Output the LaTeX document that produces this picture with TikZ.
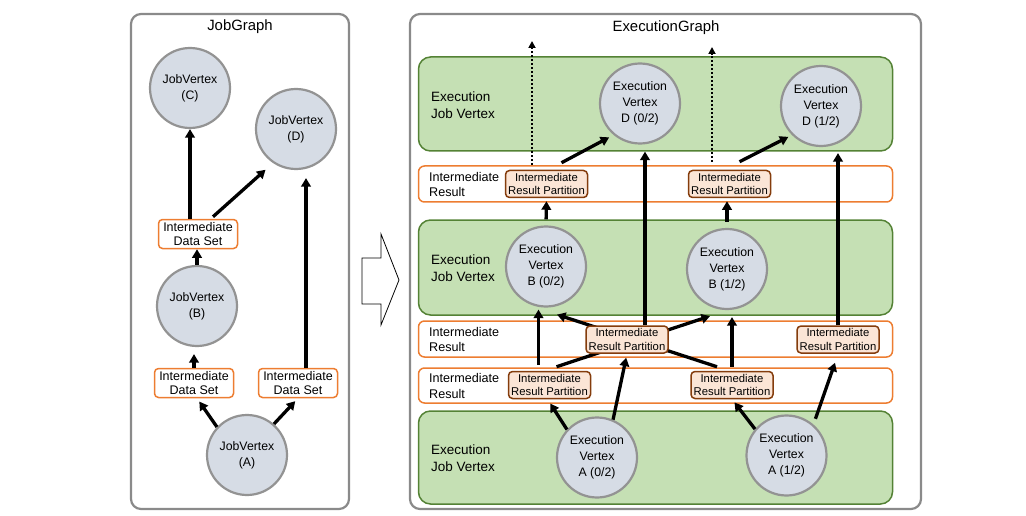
\documentclass[tikz,border=0pt]{standalone}
\usepackage{fontspec}
\setmainfont{Liberation Sans}
\usetikzlibrary{arrows.meta}
\definecolor{vfill}{HTML}{D6DCE5}
\definecolor{vline}{HTML}{939393}
\definecolor{gfill}{HTML}{C5E0B4}
\definecolor{gline}{HTML}{548235}
\definecolor{oline}{HTML}{ED7D31}
\definecolor{pfill}{HTML}{FBE5D6}
\definecolor{pline}{HTML}{843C0C}
\definecolor{frame}{HTML}{8A8A8A}
\tikzset{>={Triangle[length=8.5pt,width=9.5pt]},
  panel/.style={draw=frame, line width=2.2pt, rounded corners=10pt, minimum width=#1, minimum height=495pt},
  title/.style={font=\fontsize{14.9}{17}\selectfont},
  vertex/.style={circle, draw=vline, fill=vfill, line width=2.2pt, minimum size=80pt, inner sep=0pt, align=center, font=\fontsize{12.3}{16}\selectfont},
  dataset/.style={draw=oline, fill=white, line width=1.5pt, rounded corners=4pt, minimum width=79pt, minimum height=29pt, inner sep=0pt, align=center, font=\fontsize{12.5}{14.5}\selectfont},
  layer/.style={draw=gline, fill=gfill, line width=1.5pt, rounded corners=12pt, minimum width=474pt, minimum height=#1},
  result/.style={draw=oline, fill=white, line width=1.5pt, rounded corners=6pt, minimum width=474pt, minimum height=#1},
  layerlabel/.style={anchor=west, inner sep=0pt, align=left, font=\fontsize{13.5}{16.5}\selectfont},
  resultlabel/.style={anchor=west, inner sep=0pt, align=left, font=\fontsize{12.6}{15.5}\selectfont},
  partition/.style={draw=pline, fill=pfill, line width=1.5pt, rounded corners=4pt, minimum width=82pt, minimum height=27pt, inner sep=0pt, align=center, font=\fontsize{11.3}{13.5}\selectfont},
  flow/.style={->, line width=3.3pt},
  dotflow/.style={->, >={Triangle[length=7pt,width=7pt]}, line width=2.6pt, dash pattern=on 2pt off 2pt}}

\begin{document}
\begin{tikzpicture}[x=1pt, y=-1pt]
    \useasboundingbox (0,0) rectangle (1026,516);
    % frames
    \node[panel=218pt] (jobgraph) at (240,261.5) {};
    \node[panel=511pt] (execgraph) at (665.5,261.5) {};
    \node[title] (jgtitle) at (240,27) {JobGraph};
    \node[title] (egtitle) at (666,28) {ExecutionGraph};

    % job graph
    \node[vertex] (jC) at (190,88) {JobVertex\\(C)};
    \node[vertex] (jD) at (296,129) {JobVertex\\(D)};
    \node[dataset] (dsC) at (198,234) {Intermediate\\Data Set};
    \node[vertex] (jB) at (197,306) {JobVertex\\(B)};
    \node[dataset] (dsB) at (194,383) {Intermediate\\Data Set};
    \node[dataset] (dsD) at (298,383) {Intermediate\\Data Set};
    \node[vertex] (jA) at (247,455) {JobVertex\\(A)};
    \path[flow] (dsC.north -| jC) edge (jC)
        ([xshift=15pt,yshift=2pt]dsC.north) edge[shorten >=10pt] (jD.236)
        ([xshift=8pt]dsD.north) edge[shorten >=8pt] ([xshift=8pt]dsD.north |- jD.south)
        (dsB.north) edge[shorten >=7pt] (dsB.north |- jB.south)
        (jB.north) edge (jB.north |- dsC.south)
        (jA.137) edge[shorten >=4pt] ([xshift=3pt]dsB.south)
        (jA.49) edge[shorten >=4pt] (dsD.south);

    \draw[line width=0.8pt, fill=white] (362,258) -- (381,258) -- (381,234) -- (399,280)
        -- (381,325) -- (381,304) -- (362,304) -- cycle;

    % execution graph
    \node[layer=94pt] (gD) at (655.5,104) {};
    \node[layer=95pt] (gB) at (655.5,267.5) {};
    \node[layer=93pt] (gA) at (655.5,457.5) {};
    \node[result=36pt] (r1) at (655.5,184) {};
    \node[result=36pt] (r2) at (655.5,339) {};
    \node[result=35pt] (r3) at (655.5,385.5) {};
    \node[layerlabel] (lD) at (431,105) {Execution\\Job Vertex};
    \node[layerlabel] (lB) at (431,268) {Execution\\Job Vertex};
    \node[layerlabel] (lA) at (431,458) {Execution\\Job Vertex};
    \node[resultlabel] (l1) at (429,184.5) {Intermediate\\Result};
    \node[resultlabel] (l2) at (429,339.7) {Intermediate\\Result};
    \node[resultlabel] (l3) at (429,385.8) {Intermediate\\Result};

    \node[vertex] (eD0) at (640,103.5) {Execution\\Vertex\\D (0/2)};
    \node[vertex] (eD1) at (821,106) {Execution\\Vertex\\D (1/2)};
    \node[vertex] (eB0) at (546,266.5) {Execution\\Vertex\\B (0/2)};
    \node[vertex] (eB1) at (727,269) {Execution\\Vertex\\B (1/2)};
    \node[vertex] (eA0) at (597,457.5) {Execution\\Vertex\\A (0/2)};
    \node[vertex] (eA1) at (786.5,455.5) {Execution\\Vertex\\A (1/2)};

    \node[partition] (pB0) at (546.5,184) {Intermediate\\Result Partition};
    \node[partition] (pB1) at (729.5,184) {Intermediate\\Result Partition};
    \node[partition] (pA0) at (549.5,385) {Intermediate\\Result Partition};
    \node[partition] (pA1) at (732,385) {Intermediate\\Result Partition};
    \coordinate (up0) at (532,41);
    \coordinate (up1) at (712,47);

    % the crossing ones pass under pD0
    \path[flow] ([xshift=7pt,yshift=4pt]pA0.north) edge ([xshift=-17pt,yshift=-6pt]eB1.south)
        ([xshift=-15pt,yshift=4pt]pA1.north) edge ([xshift=11pt,yshift=-7pt]eB0.south);
    \node[partition] (pD0) at (627,339.5) {Intermediate\\Result Partition};
    \node[partition] (pD1) at (838,339.5) {Intermediate\\Result Partition};

    \path[flow] (eB0.north) edge[shorten <=6pt, shorten >=3pt] (pB0.south)
        (eB1.north) edge[shorten <=6pt, shorten >=3pt] (eB1.north |- pB1.south)
        ([xshift=15pt,yshift=7pt]pB0.north) edge[shorten >=5pt] (eD0.230)
        ([xshift=10pt,yshift=8pt]pB1.north) edge[shorten >=4pt] (eD1.225)
        ([xshift=18pt]pD0.north) edge[shorten >=7pt] ([xshift=18pt]pD0.north |- eD0.south)
        (pD1.north) edge[shorten >=6pt] (pD1.north |- eD1.south)
        ([xshift=-11pt]pA0.north) edge[shorten <=6pt, shorten >=2pt] ([xshift=-11pt]pA0.north |- eB0.south)
        (pA1.north) edge[shorten <=4pt, shorten >=7pt] (pA1.north |- eB1.south)
        (eA0.67) edge[shorten >=4pt] (pD0.south)
        (eA1.49) edge[shorten <=6pt] ([xshift=-3pt,yshift=-9pt]pD1.south)
        (eA0.137) edge[shorten >=5pt] ([xshift=-2pt]pA0.south)
        (eA1.140) edge[shorten >=4pt] (pA1.south);
    \path[dotflow] (pB0.north -| up0) edge[shorten <=5pt] (up0)
        (pB1.north -| up1) edge[shorten <=8pt] (up1);
\end{tikzpicture}
\end{document}
